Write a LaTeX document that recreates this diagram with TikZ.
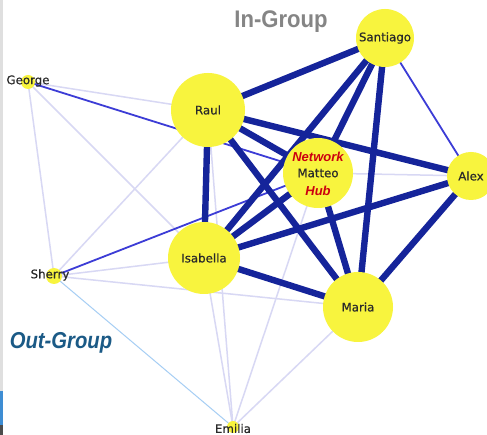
\documentclass[tikz,border=0pt]{standalone}
\usepackage{fontspec}
\setmainfont{DejaVu Sans}
\newfontfamily\namefont[FakeBold=0.6]{DejaVu Sans}
\newfontfamily\headfont{Liberation Sans}
\usetikzlibrary{backgrounds}
\definecolor{nodeyellow}{HTML}{F8F43E}
\definecolor{strongtie}{HTML}{15249A}
\definecolor{midtie}{HTML}{3C3CD6}
\definecolor{weaktie}{HTML}{D8D8F4}
\definecolor{skytie}{HTML}{A6CEF4}
\definecolor{labelgray}{HTML}{2A2A2A}
\definecolor{hubred}{HTML}{CC0010}
\definecolor{outblue}{HTML}{1B5A86}
\definecolor{ingray}{HTML}{858585}
\tikzset{
  person/.style={circle, fill=nodeyellow, inner sep=0pt, minimum size=#1},
  personlabel/.style={font=\namefont\fontsize{11.8}{12}\selectfont, text=labelgray, inner sep=0pt},
  hubtext/.style={font=\headfont\bfseries\itshape\fontsize{13}{13}\selectfont, text=hubred, inner sep=0pt},
  strongtie/.style={draw=strongtie, line width=6.4pt},
  midtie/.style={draw=midtie, line width=1.8pt},
  weaktie/.style={draw=weaktie, line width=1.5pt},
  skytie/.style={draw=skytie, line width=1pt},
}
\begin{document}
\begin{tikzpicture}[x=1pt, y=-1pt]
  \useasboundingbox (0,0) rectangle (487,435);

  % people
  \node[person=58pt] (santiago) at (385,38) {};
  \node[person=74pt] (raul) at (208,110) {};
  \node[person=70pt] (matteo) at (318,173) {};
  \node[person=48pt] (alex) at (471,176) {};
  \node[person=72pt] (isabella) at (204,258) {};
  \node[person=70pt] (maria) at (358,307) {};
  \node[person=14pt] (george) at (28,82) {};
  \node[person=16pt] (sherry) at (54,276) {};
  \node[person=12pt] (emilia) at (233,427) {};

  % names
  \node[personlabel] (santiagoL) at (santiago) {Santiago};
  \node[personlabel] (raulL) at (raul) {Raul};
  \node[personlabel] (alexL) at (alex) {Alex};
  \node[personlabel] (isabellaL) at (isabella) {Isabella};
  \node[personlabel] (mariaL) at (maria) {Maria};
  \node[personlabel] (georgeL) at (28,81) {George};
  \node[personlabel] (sherryL) at (50,275) {Sherry};
  \node[personlabel] (emiliaL) at (233,428.5) {Emilia};
  \node[personlabel] (matteoL) at (318,173) {Matteo};
  \node[hubtext] (netL) at (318,157) {Network};
  \node[hubtext] (hubL) at (318,191) {Hub};

  % group captions
  \node[font=\headfont\bfseries\fontsize{24}{24}\selectfont, text=ingray, inner sep=0pt, xscale=0.92] (ingroup) at (281,22) {In-Group};
  \node[font=\headfont\bfseries\itshape\fontsize{23}{23}\selectfont, text=outblue, inner sep=0pt, xscale=0.88] (outgroup) at (61,343) {Out-Group};

  \begin{scope}[on background layer]
    % page and its left frame strip
    \fill[white] (0,0) rectangle (487,435);
    \fill[gray!25] (0,0) rectangle (3,435);
    \fill[cyan!60!blue!80] (0,391) rectangle (3,425);
    \fill[black!70] (0,425) rectangle (3,435);
    % weak ties
    \draw[weaktie] (george.center) -- (raul.center);
    \draw[weaktie] (george.center) -- (sherry.center);
    \draw[weaktie] (george.center) -- (isabella.center);
    \draw[weaktie] (sherry.center) -- (raul.center);
    \draw[weaktie] (sherry.center) -- (isabella.center);
    \draw[weaktie] (sherry.center) -- (maria.center);
    \draw[weaktie] (raul.center) -- (emilia.center);
    \draw[weaktie] (isabella.center) -- (emilia.center);
    \draw[weaktie] (matteo.center) -- (emilia.center);
    \draw[weaktie] (maria.center) -- (emilia.center);
    \draw[weaktie] (matteo.center) -- (alex.center);
    \draw[skytie] (sherry.center) -- (emilia.center);
    % medium ties
    \draw[midtie] (george.center) -- (matteo.center);
    \draw[midtie] (sherry.center) -- (matteo.center);
    \draw[midtie] (santiago.center) -- (alex.center);
    % strong ties
    \draw[strongtie] (santiago.center) -- (raul.center);
    \draw[strongtie] (santiago.center) -- (isabella.center);
    \draw[strongtie] (santiago.center) -- (matteo.center);
    \draw[strongtie] (santiago.center) -- (maria.center);
    \draw[strongtie] (raul.center) -- (isabella.center);
    \draw[strongtie] (raul.center) -- (matteo.center);
    \draw[strongtie] (raul.center) -- (maria.center);
    \draw[strongtie] (raul.center) -- (alex.center);
    \draw[strongtie] (matteo.center) -- (isabella.center);
    \draw[strongtie] (matteo.center) -- (maria.center);
    \draw[strongtie] (isabella.center) -- (alex.center);
    \draw[strongtie] (isabella.center) -- (maria.center);
    \draw[strongtie] (alex.center) -- (maria.center);
  \end{scope}
\end{tikzpicture}
\end{document}
